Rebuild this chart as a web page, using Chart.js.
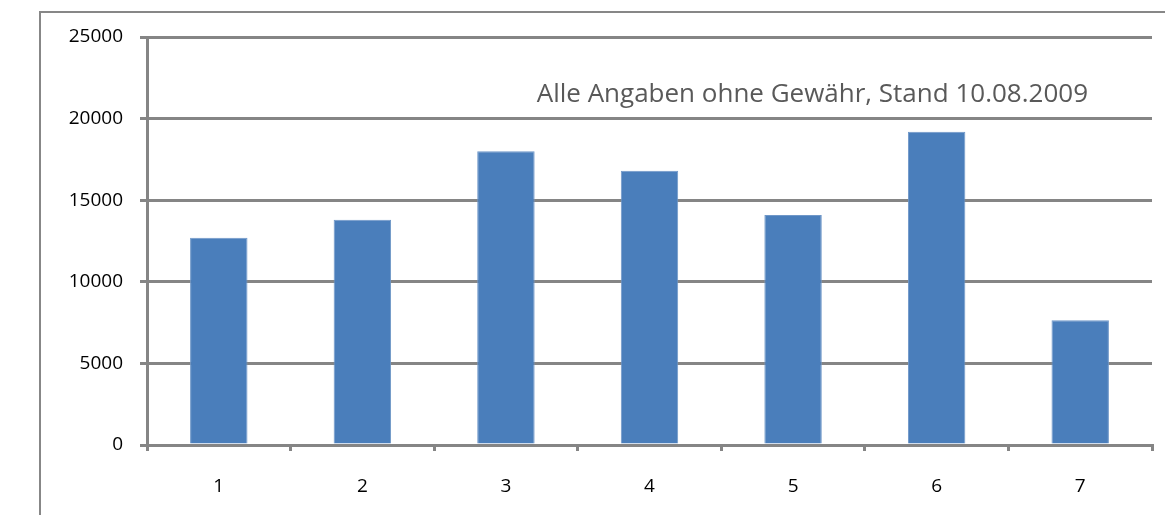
<!DOCTYPE html>
<html>
<head>
<meta charset="utf-8">
<script src="https://cdn.jsdelivr.net/npm/chart.js@4/dist/chart.umd.min.js"></script>
<style>
  html, body { margin: 0; padding: 0; background: #fff; overflow: hidden; }
  #wrap { position: relative; width: 1165px; height: 515px; }
  #frame {
    position: absolute; left: 39px; top: 11px; width: 1200px; height: 600px;
    border-left: 2px solid #878787; border-top: 2px solid #878787;
  }
  #myChart { position: absolute; left: 0; top: 0; }
</style>
</head>
<body>
<div id="wrap">
  <div id="frame"></div>
  <canvas id="myChart" width="1165" height="515"></canvas>
</div>
<script>
const categories = ['1', '2', '3', '4', '5', '6', '7'];
const values = [12700, 13800, 18000, 16800, 14100, 19200, 7650];
const yTicks = [0, 5000, 10000, 15000, 20000, 25000];
const note = 'Alle Angaben ohne Gewähr, Stand 10.08.2009';

const gridGray = '#858585';

// text in the upper right of the plot
const notePlugin = {
  id: 'note',
  afterDraw(chart) {
    const c = chart.ctx;
    const area = chart.chartArea;
    c.save();
    c.font = '26px "Open Sans"';
    c.fillStyle = '#595959';
    c.textAlign = 'right';
    c.textBaseline = 'alphabetic';
    c.fillText(note, area.right - 64, 102);
    c.restore();
  }
};

const ctx = document.getElementById('myChart').getContext('2d');

const chart = new Chart(ctx, {
  type: 'bar',
  data: {
    labels: categories,
    datasets: [{
      data: values,
      backgroundColor: '#4a7ebb',
      borderColor: '#6f97c8',
      borderWidth: 1,
      barPercentage: 0.4,
      categoryPercentage: 1
    }]
  },
  plugins: [notePlugin],
  options: {
    responsive: false,
    animation: false,
    layout: { padding: { top: 37, right: 13, left: 0, bottom: 0 } },
    plugins: {
      legend: { display: false },
      tooltip: { enabled: false }
    },
    scales: {
      x: {
        offset: true,
        afterFit: (s) => { s.height = 70; },
        border: { color: gridGray, width: 3 },
        grid: {
          offset: true,
          drawOnChartArea: false,
          drawTicks: true,
          tickLength: 6,
          color: gridGray,
          lineWidth: 3
        },
        ticks: {
          color: '#000',
          padding: 24,
          font: { family: 'Open Sans', size: 19 }
        }
      },
      y: {
        min: 0,
        max: 25000,
        afterFit: (s) => { s.width = 147; },
        afterBuildTicks: (s) => { s.ticks = yTicks.map(v => ({ value: v })); },
        border: { color: gridGray, width: 3 },
        grid: {
          color: gridGray,
          lineWidth: 3,
          tickLength: 7
        },
        ticks: {
          color: '#000',
          padding: 17,
          font: { family: 'Open Sans', size: 19 },
          callback: (v) => String(v)
        }
      }
    }
  }
});
</script>
</body>
</html>
